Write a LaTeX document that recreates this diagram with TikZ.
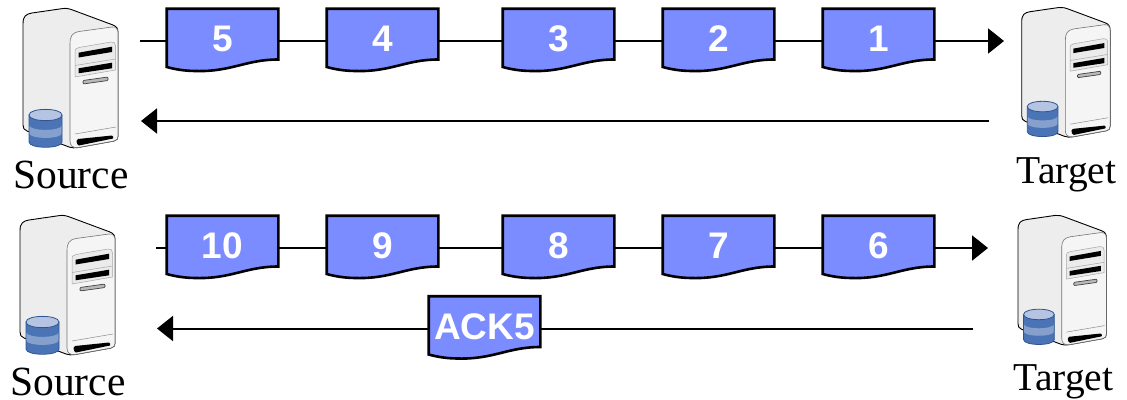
\documentclass[tikz,border=0pt]{standalone}
\usepackage{fontspec}
\setmainfont{Liberation Serif}
\newfontfamily\lblfont{Liberation Sans}
\usetikzlibrary{arrows.meta}
\definecolor{docblue}{HTML}{7A8CFF}
\definecolor{cyldark}{HTML}{4A74B5}
\definecolor{cylmid}{HTML}{86A0CE}
\definecolor{cyltop}{HTML}{B5C4E2}
\definecolor{cylline}{HTML}{2F5590}
\tikzset{
  docshape/.style={draw=black,line width=2.6pt,fill=docblue,line join=miter},
  docnum/.style={minimum width=113pt,minimum height=66pt,inner sep=0pt,text=white,font=\lblfont\bfseries\fontsize{37}{37}\selectfont},
  conn/.style={line width=2pt,draw=black},
  connarrow/.style={conn,-{Triangle[length=16pt,width=25pt]}},
  caption/.style={inner sep=0pt,text=black,anchor=base},
  srccap/.style={caption,font=\fontsize{41.5}{41.5}\selectfont},
  tgtcap/.style={caption,font=\fontsize{39.5}{39.5}\selectfont},
}
\newcommand{\docbox}[4]{% name, left x, line y, text
  \draw[docshape] (#2+.7,#3-32.3) -- (#2+112.3,#3-32.3) -- (#2+112.3,#3+18.5)
    .. controls (#2+80,#3+18.5) and (#2+65,#3+31) .. (#2+30,#3+30)
    .. controls (#2+18,#3+30) and (#2+8,#3+28) .. (#2+.7,#3+26) -- cycle;
  \node[docnum] (#1) at (#2+56.5,#3) {\raisebox{4pt}{#4}};
}
\newcommand{\serverart}[3]{\begin{scope}[shift={(#1,#2)},scale=#3]
  \draw[line width=0.9pt,fill=gray!14,line join=round]
    (23,24) .. controls (23,16) and (26,14) .. (32,13) -- (63,8.5)
    .. controls (67,8) and (70,9) .. (74,10.5) -- (113,25)
    .. controls (116.5,26.5) and (118,28) .. (118,33) -- (118,136)
    .. controls (118,139) and (117,140) .. (114,141) -- (78,147.5)
    .. controls (74,148) and (72,148) .. (69,147) -- (27,131)
    .. controls (24,130) and (23,128) .. (23,125) -- cycle;
  \draw[line width=0.6pt,draw=black!55,fill=gray!8]
    (70,44) .. controls (70,36) and (72,33) .. (79,31.5) -- (112,27)
    .. controls (116,26.5) and (118,29) .. (118,33) -- (118,136)
    .. controls (118,139) and (117,140) .. (114,141) -- (78,147.5)
    .. controls (73,148) and (70,146) .. (70,141) -- cycle;
  \draw[line width=0.5pt,draw=black!35,fill=gray!16]
    (75,53) .. controls (75,49) and (76,48) .. (79,47.5) -- (111,42)
    .. controls (114,41.5) and (115.5,43) .. (115.5,46) -- (115.5,70) -- (75,77) -- cycle;
  \draw[line width=0.5pt,draw=black!35] (75,65.5) -- (115.5,59);
  \fill[black] (78.5,52.7) -- (112,46.7) -- (112,52) -- (78.5,57.5) -- cycle;
  \fill[black] (78.5,68.3) -- (112,62.7) -- (112,68.3) -- (78.5,73.3) -- cycle;
  \draw[line width=0.7pt,draw=black!75,fill=gray!55,rounded corners=1pt] (83,80.5) -- (108,77) -- (108,80.5) -- (83,84) -- cycle;
  \draw[line width=0.5pt,draw=black!45] (75,134) -- (116,127);
  \fill[black] (76.5,141) .. controls (76.5,140) and (77,139.5) .. (78,139) -- (112,135.5) .. controls (113.5,136) and (113.5,137.5) .. (113,138.5) -- (79,145.5) .. controls (77.5,145.5) and (76.5,143) .. (76.5,141) -- cycle;
  % database
  \path[fill=cyldark] (29,115) -- (62,115) -- (62,142) .. controls (62,149) and (29,149) .. (29,142) -- cycle;
  \path[fill=cylmid] (29,125) .. controls (29,131.5) and (62,131.5) .. (62,125) -- (62,133) .. controls (62,139.5) and (29,139.5) .. (29,133) -- cycle;
  \draw[line width=0.8pt,draw=cylline] (29,115) -- (29,142) .. controls (29,149) and (62,149) .. (62,142) -- (62,115);
  \draw[line width=0.8pt,draw=cylline,fill=cyltop] (29,115) .. controls (29,107.5) and (62,107.5) .. (62,115) .. controls (62,122.5) and (29,122.5) .. (29,115) -- cycle;
\end{scope}}
\begin{document}
\begin{tikzpicture}[x=1pt,y=-1pt]
\useasboundingbox (0,0) rectangle (1127,399);
\serverart{0}{0}{1}
\serverart{1000.3}{-0.4}{.93}
\serverart{-3}{207}{1}
\serverart{996.6}{207.5}{.93}
% row 1
\coordinate (s1out) at (140,41);
\coordinate (t1in) at (1004,41);
\coordinate (t1ret) at (989,121);
\coordinate (s1ret) at (141,121);
\docbox{a5}{166}{41}{5}
\docbox{a4}{326}{41}{4}
\docbox{a3}{502}{41}{3}
\docbox{a2}{662}{41}{2}
\docbox{a1}{822}{41}{1}
\draw[conn] (s1out) -- (a5.west);
\draw[conn] (a5.east) -- (a4.west);
\draw[conn] (a4.east) -- (a3.west);
\draw[conn] (a3.east) -- (a2.west);
\draw[conn] (a2.east) -- (a1.west);
\draw[connarrow] (a1.east) -- (t1in);
\draw[connarrow] (t1ret) -- (s1ret);
% row 2
\coordinate (s2out) at (156,248);
\coordinate (t2in) at (988,248);
\coordinate (t2ret) at (973,328.5);
\coordinate (s2ret) at (157,328.5);
\docbox{b10}{166}{248}{10}
\docbox{b9}{326}{248}{9}
\docbox{b8}{502}{248}{8}
\docbox{b7}{662}{248}{7}
\docbox{b6}{822}{248}{6}
\docbox{ack}{428}{328.5}{ACK5}
\draw[conn] (s2out) -- (b10.west);
\draw[conn] (b10.east) -- (b9.west);
\draw[conn] (b9.east) -- (b8.west);
\draw[conn] (b8.east) -- (b7.west);
\draw[conn] (b7.east) -- (b6.west);
\draw[connarrow] (b6.east) -- (t2in);
\draw[conn] (t2ret) -- (ack.east);
\draw[connarrow] (ack.west) -- (s2ret);
% captions
\node[srccap] (src1) at (71,188) {Source};
\node[tgtcap] (tgt1) at (1066.5,183) {Target};
\node[srccap] (src2) at (68,395.5) {Source};
\node[tgtcap] (tgt2) at (1063.5,390) {Target};
\end{tikzpicture}
\end{document}
